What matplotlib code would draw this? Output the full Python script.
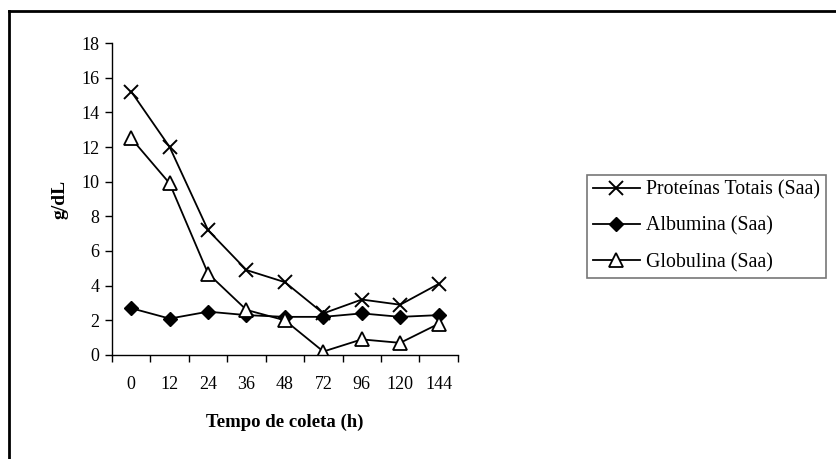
import matplotlib.pyplot as plt
from matplotlib.lines import Line2D

tempos = ["0", "12", "24", "36", "48", "72", "96", "120", "144"]
proteinas = [15.2, 12.0, 7.2, 4.9, 4.2, 2.4, 3.2, 2.9, 4.1]
albumina = [2.7, 2.1, 2.5, 2.3, 2.2, 2.2, 2.4, 2.2, 2.3]
globulina = [12.5, 9.9, 4.7, 2.6, 2.0, 0.2, 0.9, 0.7, 1.8]

plt.rcParams["font.family"] = ["Liberation Serif", "DejaVu Serif"]

fig = plt.figure(figsize=(8.37, 4.59), dpi=100)
ax = fig.add_axes([0.1338, 0.2266, 0.4132, 0.6797])

x = list(range(len(tempos)))
ax.plot(x, proteinas, color="black", lw=1.3, marker="x", ms=10, mew=1.4,
        label="Proteínas Totais (Saa)")
ax.plot(x, albumina, color="black", lw=1.3, marker="D", ms=7,
        mfc="black", label="Albumina (Saa)")
ax.plot(x, globulina, color="black", lw=1.3, marker="^", ms=10, mfc="white",
        mew=1.3, label="Globulina (Saa)")

ax.set_xlim(-0.5, len(tempos) - 0.5)
ax.set_ylim(0, 18)
ax.set_yticks(range(0, 19, 2))
ax.set_xticks(x)
ax.set_xticklabels(tempos)
ax.set_xticks([i - 0.5 for i in range(len(tempos) + 1)], minor=True)
ax.tick_params(axis="x", which="major", length=0, pad=15, labelsize=13)
ax.tick_params(axis="x", which="minor", length=5, width=1, direction="out")
ax.tick_params(axis="y", length=5, width=1, direction="out", labelsize=13, pad=4)

for s in ["top", "right"]:
    ax.spines[s].set_visible(False)
for s in ["left", "bottom"]:
    ax.spines[s].set_linewidth(1)

ax.set_xlabel("Tempo de coleta (h)", fontsize=13.5, fontweight="bold", labelpad=15)
ax.set_ylabel("g/dL", fontsize=14, fontweight="bold", labelpad=9)

leg = fig.legend(*ax.get_legend_handles_labels(), loc="upper left",
                 bbox_to_anchor=(0.7013, 0.6187), borderaxespad=0, frameon=True,
                 fancybox=False, edgecolor="#555555", fontsize=14.3,
                 handlelength=2.4, borderpad=0.28, labelspacing=0.85,
                 handletextpad=0.3)
leg.get_frame().set_linewidth(1.2)

# moldura do gráfico (só topo e esquerda visíveis)
fig.add_artist(Line2D([0.0108, 0.0108], [0, 0.9771], transform=fig.transFigure,
                      color="black", lw=2))
fig.add_artist(Line2D([0.0108, 1], [0.9771, 0.9771], transform=fig.transFigure,
                      color="black", lw=2))

fig.savefig("out.png", dpi=100)
